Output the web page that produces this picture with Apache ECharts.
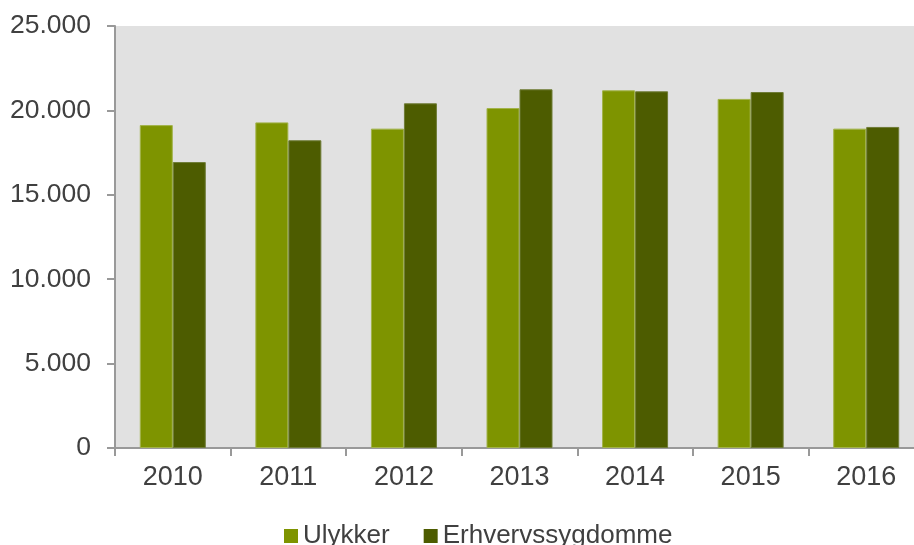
<!DOCTYPE html>
<html>
<head>
<meta charset="utf-8">
<script src="https://cdn.jsdelivr.net/npm/echarts@6/dist/echarts.min.js"></script>
<style>html,body{margin:0;padding:0;background:#fff;}#c{width:914px;height:545px;}</style>
</head>
<body>
<div id="c"></div>
<script>
const years = ['2010', '2011', '2012', '2013', '2014', '2015', '2016'];
const ulykker = [19130, 19290, 18920, 20140, 21190, 20680, 18920];
const erhvervssygdomme = [16940, 18230, 20420, 21250, 21130, 21090, 19020];
const seriesNames = ['Ulykker', 'Erhvervssygdomme'];
const yTicks = { min: 0, max: 25000, interval: 5000 };

const font = '"Liberation Sans", Arial, sans-serif';
const textColor = '#404040';
const axisColor = '#999999';

const chart = echarts.init(document.getElementById('c'));
chart.setOption({
  animation: false,
  grid: {
    left: 115, width: 809, top: 26, bottom: 97,
    show: true, backgroundColor: '#e1e1e1', borderWidth: 0,
    containLabel: false, outerBoundsMode: 'none'
  },
  legend: {
    data: seriesNames,
    left: 279, top: 518,
    icon: 'rect', itemWidth: 14, itemHeight: 14, itemGap: 34,
    itemStyle: { borderWidth: 0 },
    textStyle: { fontFamily: font, fontSize: 26, color: textColor }
  },
  xAxis: {
    type: 'category',
    data: years,
    axisLine: { show: true, lineStyle: { color: axisColor, width: 2 } },
    axisTick: { show: true, length: 8, alignWithLabel: false, lineStyle: { color: axisColor, width: 2 } },
    axisLabel: { fontFamily: font, fontSize: 27, color: textColor, margin: 16 },
    splitLine: { show: false }
  },
  yAxis: {
    type: 'value',
    min: yTicks.min, max: yTicks.max, interval: yTicks.interval,
    axisLine: { show: true, lineStyle: { color: axisColor, width: 2 } },
    axisTick: { show: true, length: 8, lineStyle: { color: axisColor, width: 2 } },
    axisLabel: {
      fontFamily: font, fontSize: 26.5, color: textColor, margin: 24,
      formatter: v => String(v).replace(/\B(?=(\d{3})+(?!\d))/g, '.')
    },
    splitLine: { show: false }
  },
  series: [
    {
      name: seriesNames[0], type: 'bar', data: ulykker,
      barWidth: 33, barGap: '0%',
      itemStyle: { color: '#7e9400', borderColor: '#a2b34a', borderWidth: 1 }
    },
    {
      name: seriesNames[1], type: 'bar', data: erhvervssygdomme,
      barWidth: 33,
      itemStyle: { color: '#4d5c00', borderColor: '#6f7c37', borderWidth: 1 }
    }
  ]
});
</script>
</body>
</html>
